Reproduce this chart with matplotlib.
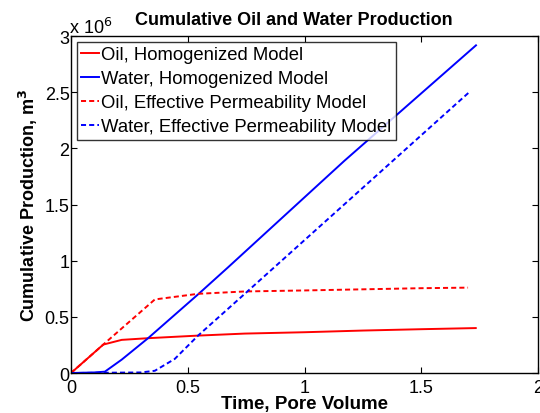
import matplotlib
matplotlib.use("Agg")
import matplotlib.pyplot as plt

plt.rcParams['font.family'] = ['Liberation Sans', 'DejaVu Sans']

# values, production in millions of m3
t_oil_h = [0, 0.138, 0.217, 0.33, 0.544, 0.744, 1.0, 1.25, 1.5, 1.733]
oil_h = [0, 0.253, 0.295, 0.31, 0.333, 0.351, 0.363, 0.378, 0.39, 0.40]

t_wat_h = [0, 0.10, 0.145, 0.217, 0.33, 0.544, 0.672, 1.171, 1.734]
wat_h = [0, 0.005, 0.012, 0.119, 0.31, 0.70, 0.94, 1.89, 2.917]

t_oil_e = [0, 0.138, 0.359, 0.544, 0.744, 1.0, 1.25, 1.5, 1.70]
oil_e = [0, 0.253, 0.655, 0.705, 0.726, 0.735, 0.745, 0.755, 0.76]

t_wat_e = [0, 0.30, 0.359, 0.444, 0.544, 0.744, 1.705]
wat_e = [0, 0.005, 0.02, 0.125, 0.333, 0.705, 2.5]

labels = ['Oil, Homogenized Model', 'Water, Homogenized Model',
          'Oil, Effective Permeability Model', 'Water, Effective Permeability Model']

fig = plt.figure(figsize=(5.4, 4.14), dpi=100)
ax = fig.add_axes([0.1315, 0.0966, 0.865, 0.814])

dash = (0, (2.6, 1.6))
ax.plot(t_oil_h, oil_h, color='#ff0000', lw=1.4, label=labels[0])
ax.plot(t_wat_h, wat_h, color='#0000ff', lw=1.4, label=labels[1])
ax.plot(t_oil_e, oil_e, color='#ff0000', lw=1.4, ls=dash, label=labels[2])
ax.plot(t_wat_e, wat_e, color='#0000ff', lw=1.4, ls=dash, label=labels[3])

ax.set_xlim(0, 2)
ax.set_ylim(0, 3)
ax.set_xticks([0, 0.5, 1, 1.5, 2])
ax.set_xticklabels(['0', '0.5', '1', '1.5', '2'])
ax.set_yticks([0, 0.5, 1, 1.5, 2, 2.5, 3])
ax.set_yticklabels(['0', '0.5', '1', '1.5', '2', '2.5', '3'])
ax.tick_params(direction='in', top=True, right=True, labelsize=13, length=4)
ax.tick_params(axis='x', pad=4.5)
ax.tick_params(axis='y', pad=1)
for s in ax.spines.values():
    s.set_linewidth(1.0)

ax.text(-0.005, 0.998, 'x 10$^6$', transform=ax.transAxes, fontsize=13, va='bottom', ha='left')

ax.set_title('Cumulative Oil and Water Production', fontsize=13, fontweight='bold',
             pad=9, x=0.478)
ax.set_xlabel('Time, Pore Volume', fontsize=13.5, fontweight='bold', labelpad=-1)
ax.set_ylabel('Cumulative Production, m$^\\mathbf{3}$', fontsize=13, fontweight='bold', labelpad=3)

leg = ax.legend(loc='upper left', fontsize=13.3, frameon=True, fancybox=False,
                handlelength=0.95, handletextpad=0.15, borderpad=0.25, labelspacing=0.38,
                borderaxespad=0.3)
leg.get_frame().set_edgecolor('black')
leg.get_frame().set_linewidth(1.0)

fig.savefig('out.png', dpi=100)
